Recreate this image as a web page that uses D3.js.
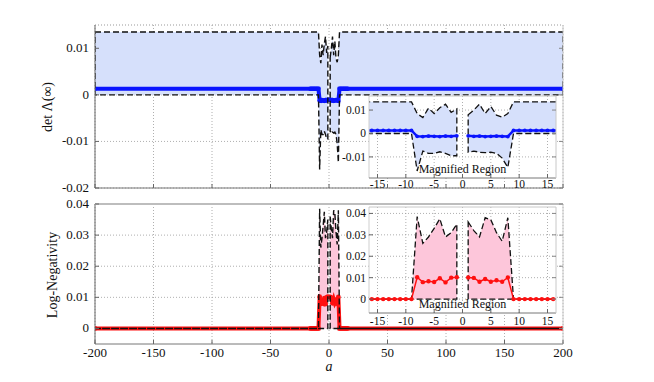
<!DOCTYPE html>
<meta charset="utf-8">
<script src="https://d3js.org/d3.v7.min.js"></script>
<style>
  body { margin: 0; background: #fff; }
  text { font-family: "Liberation Serif", "Times New Roman", serif; fill: #111; }
</style>
<div id="chart"></div>
<script>

// a values (left block ends at -1, right block starts at 1; a = 0 is missing)
const aLeft  = [-200, -16, -15, -14, -13, -12, -11, -10, -9, -8, -7, -6, -5, -4, -3, -2, -1];
const aRight = [1, 2, 3, 4, 5, 6, 7, 8, 9, 10, 11, 12, 13, 14, 15, 16, 200];

// det Lambda(inf): mean and dashed bounds
const detMeanLeft   = [0.0013, 0.0013, 0.0013, 0.0013, 0.0013, 0.0013, 0.0013, 0.0013, 0.0013, -0.0012, -0.0013, -0.0011, -0.0012, -0.0013, -0.0011, -0.0012, -0.0010];
const detMeanRight  = [-0.0010, -0.0012, -0.0011, -0.0013, -0.0012, -0.0011, -0.0012, -0.0013, 0.0013, 0.0013, 0.0013, 0.0013, 0.0013, 0.0013, 0.0013, 0.0013, 0.0013];
const detUpperLeft  = [0.0135, 0.0135, 0.0135, 0.0135, 0.0135, 0.0135, 0.0135, 0.0135, 0.0135, 0.0085, 0.0068, 0.0108, 0.0085, 0.0110, 0.0125, 0.0090, 0.0105];
const detUpperRight = [0.0080, 0.0100, 0.0125, 0.0085, 0.0115, 0.0078, 0.0070, 0.0085, 0.0135, 0.0135, 0.0135, 0.0135, 0.0135, 0.0135, 0.0135, 0.0135, 0.0135];
const detLowerLeft  = [0, 0, 0, 0, 0, 0, 0, 0, 0, -0.0160, -0.0075, -0.0085, -0.0085, -0.0078, -0.0085, -0.0095, -0.0095];
const detLowerRight = [-0.0080, -0.0075, -0.0080, -0.0082, -0.0080, -0.0085, -0.0105, -0.0145, 0, 0, 0, 0, 0, 0, 0, 0, 0];

// Log-Negativity: mean and dashed bounds
const logMeanLeft   = [0, 0, 0, 0, 0, 0, 0, 0, 0, 0.0102, 0.0079, 0.0083, 0.0080, 0.0097, 0.0078, 0.0100, 0.0102];
const logMeanRight  = [0.0101, 0.0099, 0.0081, 0.0094, 0.0081, 0.0088, 0.0081, 0.0101, 0, 0, 0, 0, 0, 0, 0, 0, 0];
const logUpperLeft  = [0, 0, 0, 0, 0, 0, 0, 0, 0, 0.0385, 0.026, 0.029, 0.033, 0.0375, 0.029, 0.031, 0.035];
const logUpperRight = [0.036, 0.032, 0.029, 0.038, 0.037, 0.031, 0.027, 0.038, 0, 0, 0, 0, 0, 0, 0, 0, 0];
const logLowerLeft  = [0, 0, 0, 0, 0, 0, 0, 0, 0, 0, 0, 0, 0, 0, 0, 0, 0];
const logLowerRight = [0, 0, 0, 0, 0, 0, 0, 0, 0, 0, 0, 0, 0, 0, 0, 0, 0];

// tick values
const xTicksMain = [-200, -150, -100, -50, 0, 50, 100, 150, 200];
const yTicksDet  = [-0.02, -0.01, 0, 0.01];
const yTicksLog  = [0, 0.01, 0.02, 0.03, 0.04];
const xTicksInset = [-15, -10, -5, 0, 5, 10, 15];
const yTicksDetInset = [-0.01, 0, 0.01];
const yTicksLogInset = [0, 0.01, 0.02, 0.03, 0.04];

function segs(a, m, u, l) {
  return a.map((v, i) => ({a: v, m: m[i], u: u[i], l: l[i]}));
}
const detSegs = [segs(aLeft, detMeanLeft, detUpperLeft, detLowerLeft),
                 segs(aRight, detMeanRight, detUpperRight, detLowerRight)];
const logSegs = [segs(aLeft, logMeanLeft, logUpperLeft, logLowerLeft),
                 segs(aRight, logMeanRight, logUpperRight, logLowerRight)];

const svg = d3.select("#chart").append("svg")
  .attr("width", 654).attr("height", 382);

svg.append("rect").attr("width", 654).attr("height", 382).attr("fill", "#fff");

let clipCount = 0;

function drawPlot(o) {
  const g = svg.append("g");
  const [x0, x1] = o.x.range();
  const [y0, y1] = o.y.range(); // y0 bottom, y1 top
  const id = "clip" + (clipCount++);
  g.append("clipPath").attr("id", id).append("rect")
    .attr("x", x0).attr("y", y1).attr("width", x1 - x0).attr("height", y0 - y1);

  if (o.inset) {
    g.append("rect").attr("x", x0).attr("y", y1)
      .attr("width", x1 - x0).attr("height", y0 - y1).attr("fill", "#fff");
  }

  // grid
  g.selectAll(null).data(o.xTicks).enter().append("line")
    .attr("x1", d => o.x(d)).attr("x2", d => o.x(d))
    .attr("y1", y1).attr("y2", y0)
    .attr("stroke", "#9a9a9a").attr("stroke-width", 0.8).attr("stroke-dasharray", "1,2");
  g.selectAll(null).data(o.yTicks).enter().append("line")
    .attr("x1", x0).attr("x2", x1)
    .attr("y1", d => o.y(d)).attr("y2", d => o.y(d))
    .attr("stroke", "#9a9a9a").attr("stroke-width", 0.8).attr("stroke-dasharray", "1,2");

  const p = g.append("g").attr("clip-path", "url(#" + id + ")");

  const area = d3.area().x(d => o.x(d.a)).y0(d => o.y(d.l)).y1(d => o.y(d.u));
  const meanLine = d3.line().x(d => o.x(d.a)).y(d => o.y(d.m));
  const outline = s => {
    const pts = s.map(d => [o.x(d.a), o.y(d.u)])
      .concat(s.slice().reverse().map(d => [o.x(d.a), o.y(d.l)]));
    return d3.line()(pts) + "Z";
  };

  o.data.forEach(s => {
    p.append("path").attr("d", area(s)).attr("fill", o.fill);
  });

  function drawDashed() {
    o.data.forEach(s => {
      p.append("path").attr("d", outline(s)).attr("fill", "none")
        .attr("stroke", "#111").attr("stroke-width", o.dashW)
        .attr("stroke-dasharray", o.dash);
    });
  }
  function drawMean() {
    o.data.forEach(s => {
      p.append("path").attr("d", meanLine(s)).attr("fill", "none")
        .attr("stroke", o.color).attr("stroke-width", o.lineW);
      p.selectAll(null).data(s).enter().append("circle")
        .attr("cx", d => o.x(d.a)).attr("cy", d => o.y(d.m))
        .attr("r", o.markerR).attr("fill", o.color);
    });
  }
  if (o.inset) { drawDashed(); drawMean(); } else { drawMean(); drawDashed(); }

  // frame
  g.append("line").attr("x1", x0).attr("x2", x0).attr("y1", y1).attr("y2", y0)
    .attr("stroke", o.inset ? "#cfcfcf" : "#666").attr("stroke-width", 1);
  g.append("line").attr("x1", x0).attr("x2", x1).attr("y1", y0).attr("y2", y0)
    .attr("stroke", "#777").attr("stroke-width", 1);
  g.append("line").attr("x1", x1).attr("x2", x1).attr("y1", y1).attr("y2", y0)
    .attr("stroke", "#c8c8c8").attr("stroke-width", 1);
  g.append("line").attr("x1", x0).attr("x2", x1).attr("y1", y1).attr("y2", y1)
    .attr("stroke", o.topColor || "#c8c8c8").attr("stroke-width", o.topW || 1)
    .attr("stroke-dasharray", o.topDash || null);

  // inward ticks
  g.selectAll(null).data(o.yTicks).enter().append("line")
    .attr("x1", x0).attr("x2", x0 + 4)
    .attr("y1", d => o.y(d)).attr("y2", d => o.y(d)).attr("stroke", "#666");
  g.selectAll(null).data(o.yTicks).enter().append("line")
    .attr("x1", x1).attr("x2", x1 - 4)
    .attr("y1", d => o.y(d)).attr("y2", d => o.y(d)).attr("stroke", "#888");
  g.selectAll(null).data(o.xTicks).enter().append("line")
    .attr("x1", d => o.x(d)).attr("x2", d => o.x(d))
    .attr("y1", y0).attr("y2", y0 - 4).attr("stroke", "#666");

  // labels
  g.selectAll(null).data(o.yTicks).enter().append("text")
    .attr("x", x0 - o.yLabelGap).attr("y", d => o.y(d) + 4)
    .attr("text-anchor", "end").style("font-size", o.fontSize + "px")
    .text(d => String(d));
  if (o.showX) {
    g.selectAll(null).data(o.xTicks).enter().append("text")
      .attr("x", d => o.x(d)).attr("y", y0 + o.xLabelGap)
      .attr("text-anchor", "middle").style("font-size", o.fontSize + "px")
      .text(d => String(d));
  }
  if (o.inset) {
    g.append("text").attr("x", o.x(0)).attr("y", y0 - 5)
      .attr("text-anchor", "middle").style("font-size", "12px")
      .text("Magnified Region");
  }
}

const xMain = d3.scaleLinear().domain([-200, 200]).range([95, 563]);
const xInset = d3.scaleLinear().domain([-16.5, 16.5]).range([369, 556]);

// top main
drawPlot({
  x: xMain, y: d3.scaleLinear().domain([-0.02, 0.015]).range([188, 25]),
  xTicks: xTicksMain, yTicks: yTicksDet, data: detSegs,
  fill: "#d6e0fb", color: "#0a14ff", lineW: 4, markerR: 2.2,
  dash: "6,3", dashW: 1.4, fontSize: 13, yLabelGap: 6, showX: false,
  topColor: "#999", topDash: "1,2"
});
// top inset
drawPlot({
  x: xInset, y: d3.scaleLinear().domain([-0.019, 0.016]).range([178, 96]),
  xTicks: xTicksInset, yTicks: yTicksDetInset, data: detSegs, inset: true,
  fill: "#d6e0fb", color: "#0a14ff", lineW: 2.5, markerR: 1.9,
  dash: "6,3", dashW: 1.3, fontSize: 11.5, yLabelGap: 3, showX: true, xLabelGap: 10
});

// bottom main
drawPlot({
  x: xMain, y: d3.scaleLinear().domain([-0.005, 0.04]).range([344, 204]),
  xTicks: xTicksMain, yTicks: yTicksLog, data: logSegs,
  fill: "#fdc6da", color: "#ff1010", lineW: 4, markerR: 2.4,
  dash: "6,3", dashW: 1.4, fontSize: 13, yLabelGap: 6, showX: true, xLabelGap: 13,
  topColor: "#bdbdbd", topW: 2
});
// bottom inset
drawPlot({
  x: xInset, y: d3.scaleLinear().domain([-0.0065, 0.043]).range([313, 207]),
  xTicks: xTicksInset, yTicks: yTicksLogInset, data: logSegs, inset: true,
  fill: "#fdc6da", color: "#ff1010", lineW: 1.5, markerR: 2.2,
  dash: "6,3", dashW: 1.3, fontSize: 11.5, yLabelGap: 3, showX: true, xLabelGap: 12
});

// axis titles
svg.append("text").attr("transform", "translate(52,107) rotate(-90)")
  .attr("text-anchor", "middle").style("font-size", "14px").text("det Λ(∞)");
svg.append("text").attr("transform", "translate(57,275) rotate(-90)")
  .attr("text-anchor", "middle").style("font-size", "14px").text("Log-Negativity");
svg.append("text").attr("x", 329).attr("y", 371)
  .attr("text-anchor", "middle").style("font-size", "14px").style("font-style", "italic").text("a");

</script>
